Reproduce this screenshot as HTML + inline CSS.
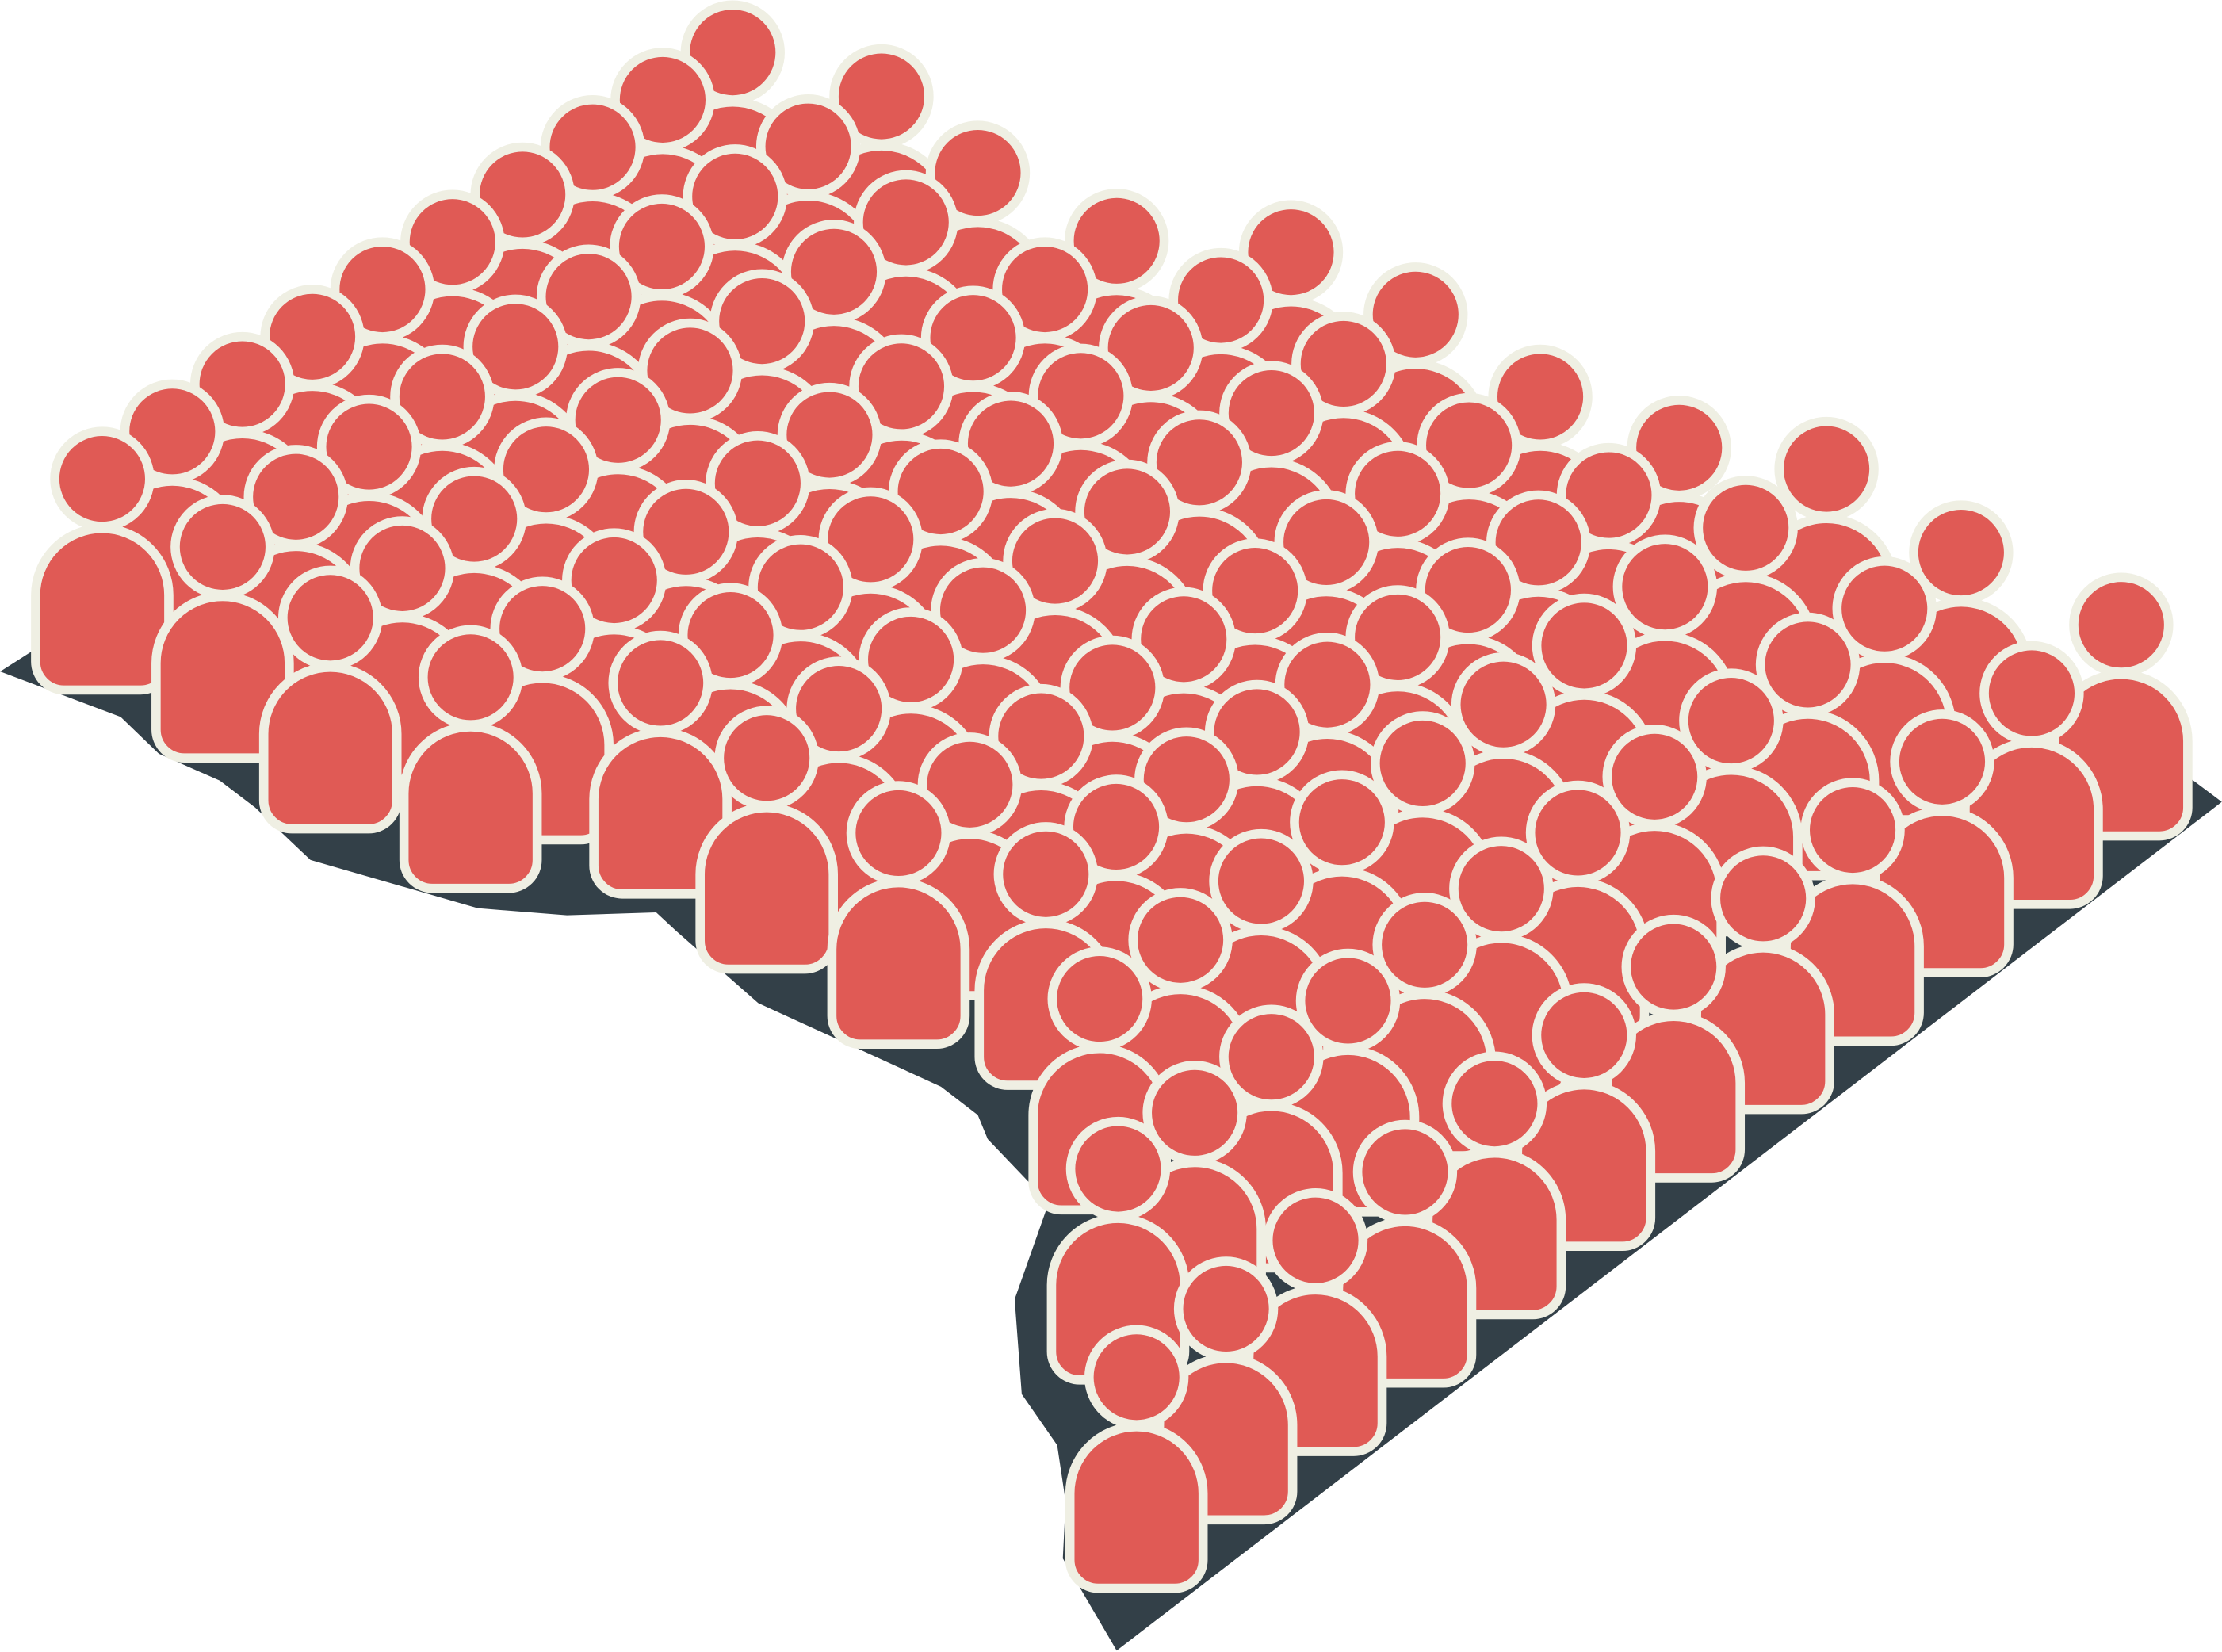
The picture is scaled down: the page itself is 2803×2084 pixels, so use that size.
<!DOCTYPE html>
<html><head><meta charset="utf-8"><style>
html,body{margin:0;padding:0;background:#fff;}
svg{display:block;}
</style></head><body>
<svg id="chart" width="2803" height="2084" viewBox="0 0 1568 1166" xmlns="http://www.w3.org/2000/svg">
<polygon fill="#334048" points="0,474 85,506 112,532 155,551 180,570 219,607 337,641 400,646 463,644 477,657 535,708 664,767 690,787 697,804 740,849 716,917 721,984 746,1020 752,1060 750,1100 788,1165 1568,566 1540,545 1497,500 1384,440 1289,395 1185,375 1087,335 999,285 911,245 788,225 690,200 622,150 517,125 468,170 418,200 369,240 319,270 269,300 219,340 170,370 121,400 72,440 25,458"/>
<g id="people"></g>
</svg>
<script>
// columns of figures: start head (front/bottom), end head (back/top), count
const colStartX = [72,157,233,332,466,541,634,738,776,789,802];
const colStartY = [338,386,436,478,482,535,588,617,705,825,972];
const colEndX   = [517,622,690,788,911,999,1087,1185,1289,1384,1497];
const colEndY   = [37,68,122,170,178,222,280,316,331,390,441];
const colCount  = [10,10,10,10,10,10,10,10,10,12,12];

const NS='http://www.w3.org/2000/svg';
const g=document.getElementById('people');
const figs=[];
for(let c=0;c<colStartX.length;c++){
  const n=colCount[c];
  for(let i=0;i<n;i++){
    const t=i/(n-1);
    figs.push({x:colStartX[c]+(colEndX[c]-colStartX[c])*t, y:colStartY[c]+(colEndY[c]-colStartY[c])*t, c:c, i:i});
  }
}
figs.sort((a,b)=>a.y-b.y);
const fill='#e05a55', stroke='#efefe3';
figs.forEach(f=>{
  const grp=document.createElementNS(NS,'g');
  
  
  const L=f.x-47,R=f.x+47,T=f.y+35,B=f.y+149,r=47,rb=20;
  const body=document.createElementNS(NS,'path');
  body.setAttribute('d',`M${L},${T+r} A${r},${r} 0 0 1 ${R},${T+r} L${R},${B-rb} A${rb},${rb} 0 0 1 ${R-rb},${B} L${L+rb},${B} A${rb},${rb} 0 0 1 ${L},${B-rb} Z`);
  body.setAttribute('fill',fill);body.setAttribute('stroke',stroke);body.setAttribute('stroke-width','6.5');
  
  
  const head=document.createElementNS(NS,'circle');
  head.setAttribute('cx',f.x);head.setAttribute('cy',f.y);head.setAttribute('r',33.5);
  head.setAttribute('fill',fill);head.setAttribute('stroke',stroke);head.setAttribute('stroke-width','6.5');
  
  
  grp.appendChild(body);grp.appendChild(head);g.appendChild(grp);
});
</script>
</body></html>
